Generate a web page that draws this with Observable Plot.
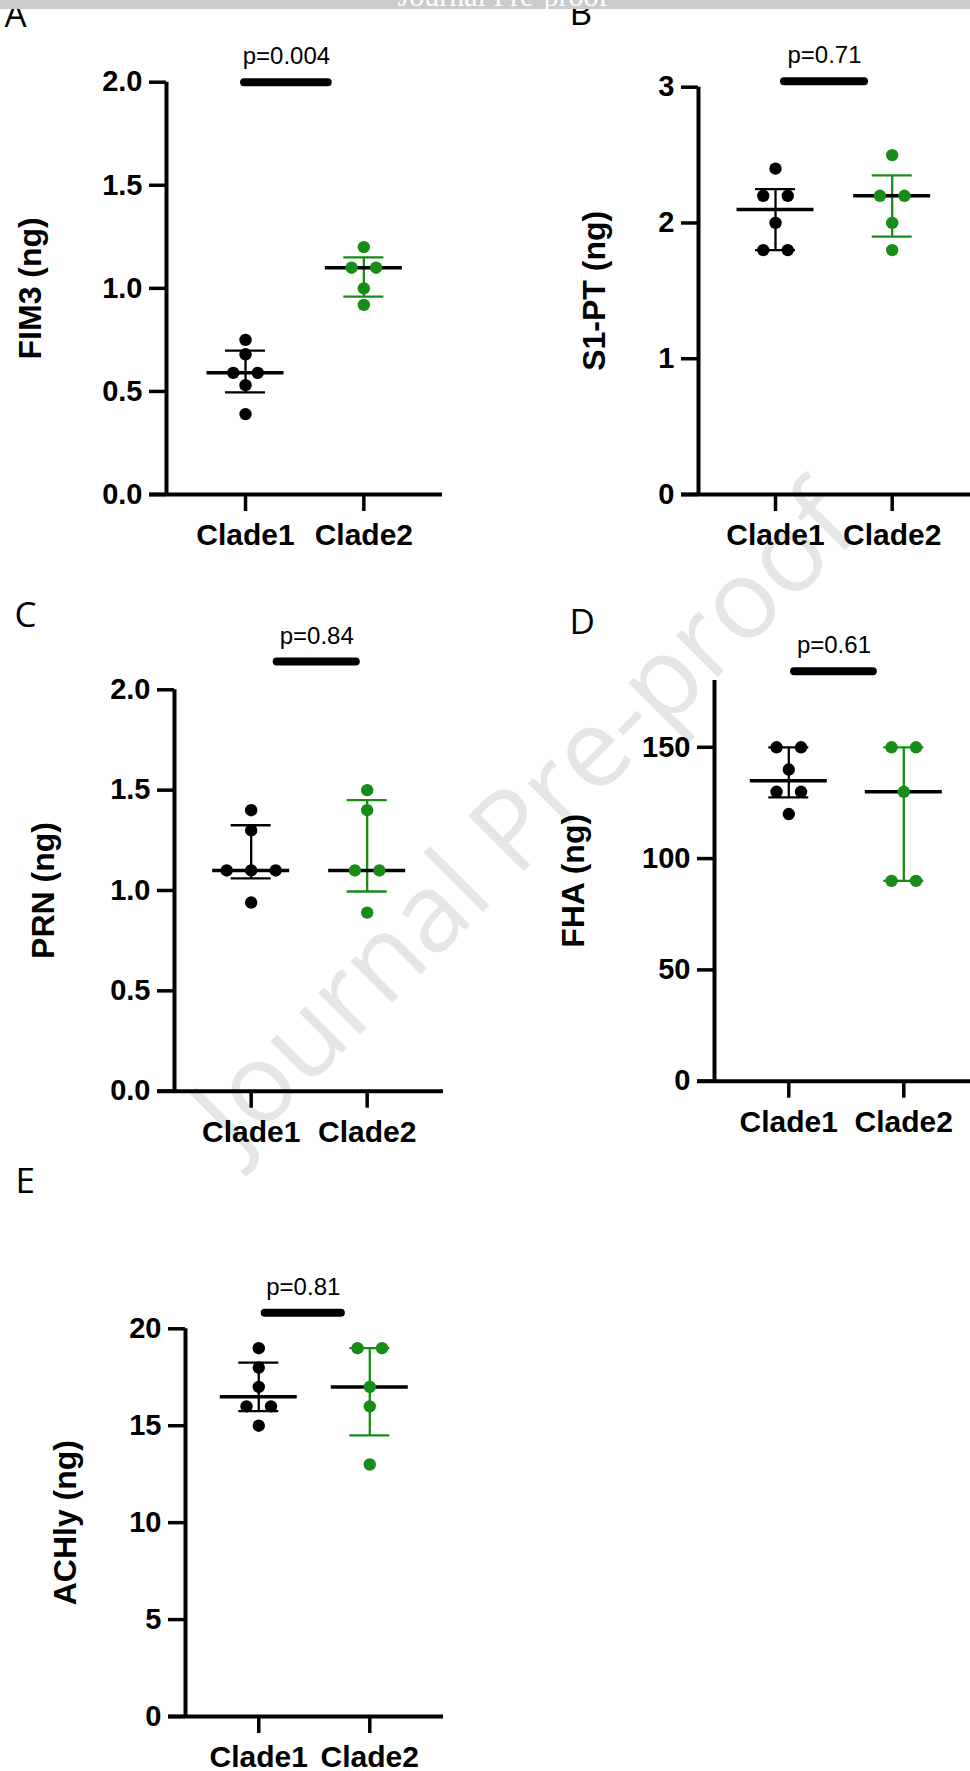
<!DOCTYPE html>
<html>
<head>
<meta charset="utf-8">
<script src="https://cdn.jsdelivr.net/npm/d3@7"></script>
<script src="https://cdn.jsdelivr.net/npm/@observablehq/plot@0.6"></script>
<style>
html, body { margin: 0; padding: 0; background: #fff; }
#page { position: relative; width: 970px; height: 1771px; overflow: hidden; background: #fff; }
.panel { position: absolute; z-index: 2; }
#banner { position: absolute; left: 0; top: 0; width: 970px; height: 9px; background: #cbcbcd; overflow: hidden; z-index: 5; }
#banner span { position: absolute; left: 0; width: 1006px; text-align: center; top: -19px; font-family: "Liberation Serif", serif; font-size: 30px; line-height: 30px; color: #fff; white-space: nowrap; }
#wm { position: absolute; left: 520px; top: 814px; transform: translate(-50%, -50%) rotate(-45deg); font-family: "Open Sans", sans-serif; font-size: 110px; line-height: 1; color: #e6e6e6; white-space: nowrap; z-index: 1; }
</style>
</head>
<body>
<div id="page">
  <div id="banner"><span>Journal Pre-proof</span></div>
  <div id="wm">Journal Pre-proof</div>
</div>
<script>
// ---------------- data ----------------
const clades = ["Clade1", "Clade2"];

const fim3Clade1 = [0.75, 0.68, 0.59, 0.59, 0.53, 0.39];
const fim3Clade2 = [1.2, 1.1, 1.1, 1.0, 0.92];

const s1ptClade1 = [2.4, 2.2, 2.2, 2.0, 1.8, 1.8];
const s1ptClade2 = [2.5, 2.2, 2.2, 2.0, 1.8];

const prnClade1 = [1.4, 1.3, 1.1, 1.1, 1.1, 0.94];
const prnClade2 = [1.5, 1.4, 1.1, 1.1, 0.89];

const fhaClade1 = [150, 150, 140, 130, 130, 120];
const fhaClade2 = [150, 150, 130, 90, 90];

const achlyClade1 = [19, 18, 17, 16, 16, 15];
const achlyClade2 = [19, 19, 17, 16, 13];

const panelLetters = ["A", "B", "C", "D", "E"];
const yLabels = ["FIM3 (ng)", "S1-PT (ng)", "PRN (ng)", "FHA (ng)", "ACHly (ng)"];
const pLabels = ["p=0.004", "p=0.71", "p=0.84", "p=0.61", "p=0.81"];
const yTickSets = [
  [0, 0.5, 1.0, 1.5, 2.0],
  [0, 1, 2, 3],
  [0, 0.5, 1.0, 1.5, 2.0],
  [0, 50, 100, 150],
  [0, 5, 10, 15, 20]
];
const yTickFormats = [".1f", "d", ".1f", "d", "d"];
const yMaxes = [2, 3, 2, 180, 20];

// ---------------- layout (page pixels) ----------------
const layout = [
  {box: {left: 0, top: 0, width: 485, height: 580},     frame: {l: 166, r: 442, t: 81.7, b: 494},    xDom: [0.332, 2.665], bar: [0.992, 1.699], lift: 0,   labelDx: -136,  letter: [4, 27]},
  {box: {left: 485, top: 0, width: 485, height: 580},   frame: {l: 698, r: 970, t: 86.7, b: 494},    xDom: [0.34, 2.671],  bar: [1.077, 1.763], lift: 6,   labelDx: -103.5, letter: [569, 25]},
  {box: {left: 0, top: 580, width: 485, height: 590},   frame: {l: 174, r: 443, t: 689.3, b: 1090.7}, xDom: [0.339, 2.658], bar: [1.224, 1.906], lift: 28.3, labelDx: -131, letter: [14, 626]},
  {box: {left: 485, top: 580, width: 485, height: 590}, frame: {l: 714, r: 970, t: 680, b: 1080.7},   xDom: [0.354, 2.58],  bar: [1.05, 1.735],  lift: 9.3, labelDx: -140.5, letter: [569, 633]},
  {box: {left: 0, top: 1170, width: 485, height: 601},  frame: {l: 185, r: 443, t: 1328.3, b: 1716},  xDom: [0.34, 2.664],  bar: [1.058, 1.744], lift: 16,  labelDx: -120,  letter: [15, 1192]}
];

const groups = [
  [fim3Clade1, fim3Clade2],
  [s1ptClade1, s1ptClade2],
  [prnClade1, prnClade2],
  [fhaClade1, fhaClade2],
  [achlyClade1, achlyClade2]
];

const colors = ["#000000", "#178c17"];
const FONT = "Liberation Sans, Arial, Helvetica, sans-serif";

// quartile as in Prism: position (n+1)p
function quartile(vals, p) {
  const s = vals.slice().sort((a, b) => a - b);
  const n = s.length;
  const h = (n + 1) * p;
  const lo = Math.floor(h);
  const f = h - lo;
  if (lo < 1) return s[0];
  if (lo >= n) return s[n - 1];
  return s[lo - 1] + f * (s[lo] - s[lo - 1]);
}

// horizontal spread of equal values (scatter dot plot)
function spread(vals, pxPerUnit, stepPx) {
  const counts = d3.rollup(vals, v => v.length, d => d);
  const seen = new Map();
  return vals.map(v => {
    const k = counts.get(v);
    const i = seen.get(v) || 0;
    seen.set(v, i + 1);
    return (i - (k - 1) / 2) * stepPx / pxPerUnit;
  });
}

const page = document.getElementById("page");

layout.forEach((L, pi) => {
  const {box, frame, xDom} = L;
  const yMax = yMaxes[pi];
  const pxPerUnit = (frame.r - frame.l) / (xDom[1] - xDom[0]);
  const fmt = d3.format(yTickFormats[pi]);

  const marks = [];

  // axes lines
  marks.push(Plot.ruleX([xDom[0]], {stroke: "black", strokeWidth: 4, insetBottom: -2}));
  marks.push(Plot.ruleY([0], {stroke: "black", strokeWidth: 4, insetLeft: -17}));

  marks.push(Plot.axisY({
    ticks: yTickSets[pi], tickFormat: fmt, tickSize: 17, tickPadding: 7,
    stroke: "black", strokeWidth: 3.5, fill: "black",
    fontSize: 29, fontWeight: "bold", fontFamily: FONT, label: null
  }));
  marks.push(Plot.axisX({
    ticks: [1, 2], tickFormat: d => clades[d - 1], tickSize: 17, tickPadding: 12,
    stroke: "black", strokeWidth: 3.5, fill: "black",
    fontSize: 30, fontWeight: "bold", fontFamily: FONT, label: null
  }));

  // y label
  marks.push(Plot.text([yLabels[pi]], {
    text: d => d, frameAnchor: "left", dx: L.labelDx, rotate: -90,
    textAnchor: "middle", lineAnchor: "middle",
    fontSize: 32, fontWeight: "bold", fontFamily: FONT, fill: "black"
  }));

  // panel letter
  marks.push(Plot.text([panelLetters[pi]], {
    text: d => d, frameAnchor: "top-left",
    dx: L.letter[0] - frame.l, dy: L.letter[1] - frame.t,
    textAnchor: "start", lineAnchor: "bottom",
    fontSize: 35, fontFamily: "Open Sans, sans-serif", fontWeight: "normal", fill: "black"
  }));

  // groups
  groups[pi].forEach((vals, gi) => {
    const xi = gi + 1;
    const q1 = quartile(vals, 0.25);
    const med = quartile(vals, 0.5);
    const q3 = quartile(vals, 0.75);
    const col = colors[gi];

    marks.push(Plot.ruleX([xi], {x: d => d, y1: q1, y2: q3, stroke: col, strokeWidth: 2.3}));
    marks.push(Plot.ruleY([q1, q3], {y: d => d, x1: xi, x2: xi, insetLeft: -20, insetRight: -20, stroke: col, strokeWidth: 2.3}));
    marks.push(Plot.ruleY([med], {y: d => d, x1: xi, x2: xi, insetLeft: -38.5, insetRight: -38.5, stroke: "black", strokeWidth: 3.5}));

    const offs = spread(vals, pxPerUnit, 24.5);
    const pts = vals.map((v, i) => ({x: xi + offs[i], y: v}));
    marks.push(Plot.dot(pts, {x: "x", y: "y", r: 6.2, fill: col, stroke: "none"}));
  });

  // significance bar and p label
  const [b1, b2] = L.bar;
  marks.push(Plot.ruleY([yMax], {y: d => d, x1: b1, x2: b2, dy: -L.lift, stroke: "black", strokeWidth: 8, strokeLinecap: "round"}));
  marks.push(Plot.text([pLabels[pi]], {
    text: d => d, x: (b1 + b2) / 2, y: yMax, dy: -(L.lift + 18),
    lineAnchor: "bottom", textAnchor: "middle",
    fontSize: 24, fontWeight: "normal", fontFamily: FONT, fill: "black"
  }));

  const svg = Plot.plot({
    width: box.width,
    height: box.height,
    marginLeft: frame.l - box.left,
    marginRight: box.left + box.width - frame.r,
    marginTop: frame.t - box.top,
    marginBottom: box.top + box.height - frame.b,
    x: {domain: xDom},
    y: {domain: [0, yMax]},
    style: {background: "transparent", overflow: "visible", maxWidth: "none", fontFamily: FONT, color: "black"},
    marks
  });

  const holder = document.createElement("div");
  holder.className = "panel";
  holder.style.left = box.left + "px";
  holder.style.top = box.top + "px";
  holder.style.width = box.width + "px";
  holder.style.height = box.height + "px";
  holder.appendChild(svg);
  page.appendChild(holder);
});
</script>
</body>
</html>
